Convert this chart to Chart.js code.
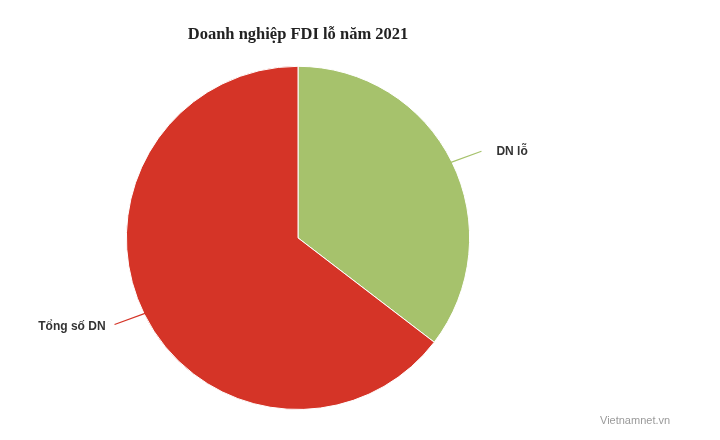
<!DOCTYPE html>
<html>
<head>
<meta charset="utf-8">
<script src="https://cdn.jsdelivr.net/npm/chart.js@4/dist/chart.umd.min.js"></script>
<style>
  html, body { margin: 0; padding: 0; background: #fff; }
  #wrap { width: 720px; height: 440px; position: relative; }
</style>
</head>
<body>
<div id="wrap"><canvas id="chart-fdi"></canvas></div>
<script>
// data (shares, estimated)
const labels = [`DN lỗ`, `Tổng số DN`];
const values = [35.4, 64.6];
const colors = [`#a6c26c`, `#d53427`];

// slice labels with leader lines, like the original
const sliceLabels = {
  id: `sliceLabels`,
  afterDatasetsDraw(chart) {
    const ctx = chart.ctx;
    const arcs = chart.getDatasetMeta(0).data;
    ctx.save();
    ctx.font = `bold 12px "Liberation Sans", Arial, sans-serif`;
    ctx.textBaseline = `middle`;
    arcs.forEach((arc, i) => {
      const mid = (arc.startAngle + arc.endAngle) / 2;
      const cos = Math.cos(mid);
      const sin = Math.sin(mid);
      const x0 = arc.x + cos * (arc.outerRadius - 1);
      const y0 = arc.y + sin * (arc.outerRadius - 1);
      const x1 = arc.x + cos * (arc.outerRadius + 33);
      const y1 = arc.y + sin * (arc.outerRadius + 24);
      ctx.strokeStyle = colors[i];
      ctx.lineWidth = 1.2;
      ctx.beginPath();
      ctx.moveTo(x0, y0);
      ctx.lineTo(x1, y1);
      ctx.stroke();
      ctx.fillStyle = `#333`;
      if (cos >= 0) {
        ctx.textAlign = `left`;
        ctx.fillText(labels[i], x1 + 15, y1);
      } else {
        ctx.textAlign = `right`;
        ctx.fillText(labels[i], x1 - 9, y1 + 2);
      }
    });
    // source credit
    ctx.font = `11px "Liberation Sans", Arial, sans-serif`;
    ctx.fillStyle = `#9a9a9a`;
    ctx.textAlign = `left`;
    ctx.fillText(`Vietnamnet.vn`, 600, 421);
    ctx.restore();
  }
};

const ctxFdi = document.getElementById(`chart-fdi`);
const chartFdi = new Chart(ctxFdi, {
  type: `pie`,
  data: {
    labels: labels,
    datasets: [{
      data: values,
      backgroundColor: colors,
      borderColor: `#ffffff`,
      borderWidth: 1,
    }]
  },
  options: {
    responsive: true,
    maintainAspectRatio: false,
    animation: false,
    events: [],
    layout: {
      padding: { left: 80, right: 204, top: 13, bottom: 30 }
    },
    plugins: {
      legend: { display: false },
      tooltip: { enabled: false },
      title: {
        display: true,
        text: `Doanh nghiệp FDI lỗ năm 2021`,
        color: `#222`,
        font: { family: `"Liberation Serif", "Times New Roman", serif`, size: 16.5, weight: `bold` },
        padding: { top: 12, bottom: 21 }
      }
    }
  },
  plugins: [sliceLabels]
});
</script>
</body>
</html>
